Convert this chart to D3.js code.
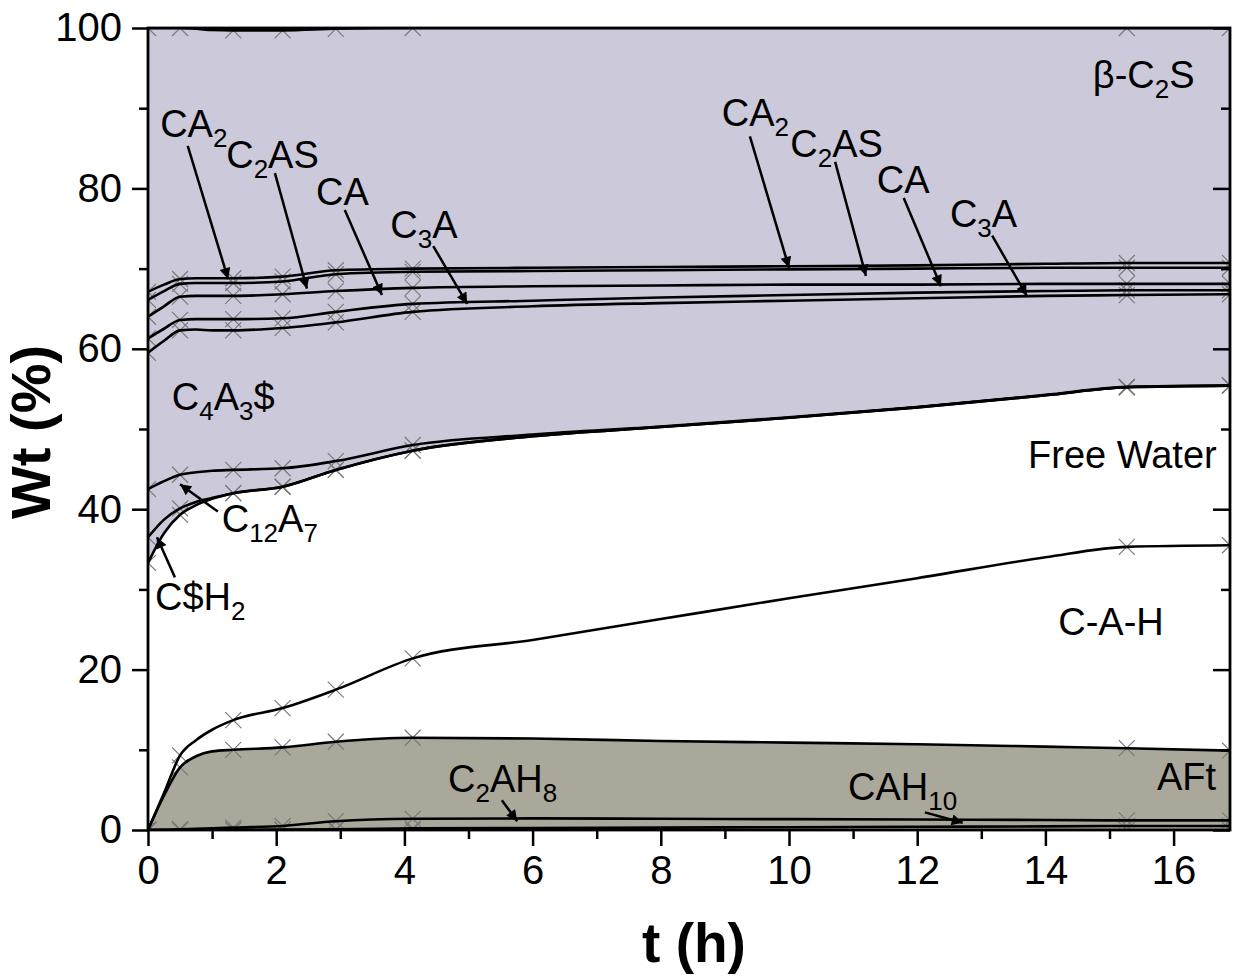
<!DOCTYPE html>
<html>
<head>
<meta charset="utf-8">
<script src="https://cdn.jsdelivr.net/npm/d3@7"></script>
<style>
  body { margin: 0; background: #fff; }
  text { font-family: "Liberation Sans", Arial, sans-serif; }
</style>
</head>
<body>
<div id="container"></div>
<script>
/* CONSTANTS AND GLOBALS */
const width = 1238,
  height = 976,
  margin = { top: 28, bottom: 146, left: 148, right: 8 };

/* DATA - wt% of each phase */
const times = [0, 0.25, 0.5, 0.75, 1.0, 1.33, 2.1, 2.93, 4.13, 6, 8, 10, 12, 14, 15.27, 16.88];
// times with measured points (the grey crosses)
const measTimes = [0, 0.5, 1.33, 2.1, 2.93, 4.13, 15.27, 16.88];

const CAH10 = [0, 0, 0, 0, 0, 0, 0.05, 0.1, 0.2, 0.25, 0.3, 0.35, 0.4, 0.45, 0.5, 0.5];
const C2AH8 = [0, 0.02, 0.1, 0.15, 0.2, 0.3, 0.45, 1.0, 1.2, 1.2, 1.1, 1.0, 0.9, 0.8, 0.7, 0.7];
const AFt = [0, 4.28, 7.7, 9.05, 9.6, 9.7, 9.8, 9.9, 10.1, 9.95, 9.7, 9.55, 9.4, 9.15, 9.0, 8.7];
const CAH = [0, 0.3, 1.5, 2.0, 2.7, 3.7, 4.9, 6.5, 9.9, 12.3, 15.2, 18.0, 20.7, 23.6, 25.1, 25.6];
const FreeWater = [33.3, 32.4, 30.0, 29.3, 28.8, 28.3, 27.6, 27.4, 25.9, 25.4, 23.95, 22.5, 21.3, 20.2, 19.9, 19.9];
const CSH2 = [3.2, 1.7, 0.8, 0.4, 0.1, 0, 0, 0, 0, 0, 0, 0, 0, 0, 0, 0];
const C12A7 = [6.0, 4.8, 4.2, 3.7, 3.4, 2.9, 2.3, 1.1, 0.7, 0.2, 0.05, 0.05, 0.05, 0.05, 0.05, 0.05];
const C4A3S = [17.0, 17.5, 18.0, 17.8, 17.5, 17.4, 17.5, 17.3, 16.6, 16.0, 15.4, 14.55, 13.55, 12.35, 11.45, 11.35];
const C3A = [1.8, 1.5, 1.3, 1.3, 1.4, 1.4, 1.2, 1.3, 1.0, 0.7, 0.7, 0.7, 0.7, 0.6, 0.6, 0.5];
const CA = [2.7, 2.8, 2.9, 2.9, 2.9, 2.9, 3.0, 2.6, 2.0, 1.8, 1.5, 1.3, 1.0, 0.9, 0.8, 0.8];
const C2AS = [2.1, 1.9, 1.6, 1.6, 1.6, 1.6, 1.6, 2.1, 2.0, 1.9, 1.9, 1.9, 2.0, 2.0, 2.0, 2.0];
const CA2 = [1.0, 0.8, 0.6, 0.6, 0.6, 0.6, 0.6, 0.5, 0.4, 0.4, 0.4, 0.4, 0.4, 0.5, 0.6, 0.6];
const bC2S = [32.9, 32.0, 31.3, 31.1, 30.95, 30.9, 30.7, 30.1, 30.0, 29.9, 29.8, 29.7, 29.6, 29.4, 29.3, 29.3];

const phases = { CAH10, C2AH8, AFt, CAH, FreeWater, CSH2, C12A7, C4A3S, C3A, CA, C2AS, CA2, bC2S };
const keys = Object.keys(phases);

const xTicks = [0, 2, 4, 6, 8, 10, 12, 14, 16];
const yTicks = [0, 20, 40, 60, 80, 100];

// labels: {sub} = subscript; t,v = text anchor in data units; a = arrow [t0,v0,t1,v1]
const labels = [
  { s: "β-C{2}S", t: 14.74, v: 92.5 },
  { s: "CA{2}", t: 0.19, v: 86.4, a: [0.62, 85.3, 1.25, 68.7] },
  { s: "C{2}AS", t: 1.22, v: 82.5, a: [1.98, 81.9, 2.48, 67.5] },
  { s: "CA", t: 2.62, v: 77.9, a: [3.07, 77.3, 3.65, 66.7] },
  { s: "C{3}A", t: 3.78, v: 73.8, a: [4.45, 72.8, 4.98, 65.6] },
  { s: "CA{2}", t: 8.95, v: 87.8, a: [9.39, 86.5, 10.0, 70.1] },
  { s: "C{2}AS", t: 10.02, v: 83.9, a: [10.72, 83.3, 11.2, 69.1] },
  { s: "CA", t: 11.37, v: 79.4, a: [11.79, 78.8, 12.37, 67.8] },
  { s: "C{3}A", t: 12.51, v: 75.2, a: [13.17, 74.1, 13.71, 66.6] },
  { s: "C{4}A{3}$", t: 0.37, v: 52.4 },
  { s: "C{12}A{7}", t: 1.15, v: 37.2, a: [1.09, 39.7, 0.50, 43.1] },
  { s: "C$H{2}", t: 0.11, v: 27.4, a: [0.42, 31.5, 0.14, 36.5] },
  { s: "Free Water", t: 13.73, v: 45.1 },
  { s: "C-A-H", t: 14.2, v: 24.3 },
  { s: "C{2}AH{8}", t: 4.68, v: 4.7, a: [5.52, 3.7, 5.76, 1.1] },
  { s: "CAH{10}", t: 10.92, v: 3.7, a: [12.12, 2.2, 12.71, 0.9] },
  { s: "AFt", t: 15.74, v: 5.0 }
];

const lavender = "#cbc9da", khaki = "#aaa89b";
const fillOf = { CAH10: khaki, C2AH8: khaki, AFt: khaki, CAH: "#fff", FreeWater: "#fff" };

/* SCALES */
const xScale = d3.scaleLinear()
  .domain([0, 16.88])
  .range([margin.left, width - margin.right]);
const yScale = d3.scaleLinear()
  .domain([0, 100])
  .range([height - margin.bottom, margin.top]);

const rows = times.map((t, i) => {
  const r = { t };
  keys.forEach(k => r[k] = phases[k][i]);
  return r;
});
const series = d3.stack().keys(keys)(rows);

/* HTML ELEMENTS */
const svg = d3.select("#container")
  .append("svg")
  .attr("width", width)
  .attr("height", height)
  .style("background-color", "white");

const defs = svg.append("defs");
defs.append("clipPath").attr("id", "plot")
  .append("rect")
  .attr("x", margin.left).attr("y", margin.top)
  .attr("width", width - margin.left - margin.right)
  .attr("height", height - margin.top - margin.bottom);
defs.append("marker")
  .attr("id", "head")
  .attr("markerUnits", "userSpaceOnUse")
  .attr("viewBox", "0 0 10 10")
  .attr("refX", 10).attr("refY", 5)
  .attr("markerWidth", 15).attr("markerHeight", 11)
  .attr("orient", "auto")
  .append("path").attr("d", "M0,0L10,5L0,10Z").attr("fill", "#000");

const plot = svg.append("g").attr("clip-path", "url(#plot)");

const area = d3.area()
  .x(d => xScale(d.data.t))
  .y0(d => yScale(d[0]))
  .y1(d => yScale(d[1]))
  .curve(d3.curveMonotoneX);
const line = d3.line()
  .x(d => xScale(d.data.t))
  .y(d => yScale(d[1]))
  .curve(d3.curveMonotoneX);

plot.selectAll(".layer")
  .data(series)
  .enter()
  .append("path")
  .attr("d", area)
  .attr("fill", d => fillOf[d.key] || lavender);

// grey crosses at measured times on each boundary
const crosses = [];
series.forEach(s => s.forEach(d => {
  if (measTimes.includes(d.data.t)) crosses.push([d.data.t, d[1]]);
}));
measTimes.forEach(t => crosses.push([t, 0]));
const c = 8;
plot.selectAll(".cross")
  .data(crosses)
  .enter()
  .append("path")
  .attr("d", d => {
    const px = xScale(d[0]), py = yScale(d[1]);
    return `M${px - c},${py - c}L${px + c},${py + c}M${px - c},${py + c}L${px + c},${py - c}`;
  })
  .attr("stroke", "#7a7a7a")
  .attr("stroke-width", 1.2)
  .attr("fill", "none");

plot.selectAll(".edge")
  .data(series)
  .enter()
  .append("path")
  .attr("d", line)
  .attr("fill", "none")
  .attr("stroke", "#000")
  .attr("stroke-width", 2.6);

//axis
const x0 = margin.left, x1 = width - margin.right;
const y0 = height - margin.bottom, y1 = margin.top;
const xAxis = d3.axisBottom(xScale)
  .tickValues(xTicks)
  .tickSize(16)
  .tickPadding(10)
  .tickFormat(d3.format("d"));
svg.append("g")
  .attr("transform", `translate(0,${y0})`)
  .call(xAxis);
svg.append("g")
  .attr("transform", `translate(0,${y0})`)
  .call(d3.axisBottom(xScale).tickValues(d3.range(1, 17, 2)).tickSize(9).tickFormat(""));

const yAxis = d3.axisLeft(yScale)
  .tickValues(yTicks)
  .tickSize(16)
  .tickPadding(10);
svg.append("g")
  .attr("transform", `translate(${x0},0)`)
  .call(yAxis);
svg.append("g")
  .attr("transform", `translate(${x0},0)`)
  .call(d3.axisLeft(yScale).tickValues(d3.range(10, 100, 20)).tickSize(9).tickFormat(""));
svg.append("g")
  .attr("transform", `translate(${x1},0)`)
  .call(d3.axisRight(yScale).tickValues(yTicks).tickSize(-17).tickFormat(""));
svg.append("g")
  .attr("transform", `translate(${x1},0)`)
  .call(d3.axisRight(yScale).tickValues(d3.range(10, 100, 20)).tickSize(-9).tickFormat(""));

svg.selectAll(".domain").remove();
svg.selectAll(".tick line").attr("stroke", "#000").attr("stroke-width", 2.5);
svg.selectAll(".tick text")
  .attr("fill", "#000")
  .style("font-size", "40px")
  .style("font-family", '"Liberation Sans", Arial, sans-serif');

// frame
svg.append("rect")
  .attr("x", x0).attr("y", y1)
  .attr("width", x1 - x0).attr("height", y0 - y1)
  .attr("fill", "none")
  .attr("stroke", "#000")
  .attr("stroke-width", 2.8);

//Axis titles
svg.append("text")
  .attr("x", 694)
  .attr("y", 962)
  .attr("text-anchor", "middle")
  .style("font-size", "55px")
  .style("font-weight", "bold")
  .text("t (h)");
svg.append("text")
  .attr("transform", `translate(50,${(y0 + y1) / 2 + 3}) rotate(-90)`)
  .attr("text-anchor", "middle")
  .style("font-size", "56px")
  .style("font-weight", "bold")
  .text("Wt (%)");

// phase labels with subscripts
labels.forEach(l => {
  const txt = svg.append("text")
    .attr("x", xScale(l.t))
    .attr("y", yScale(l.v))
    .style("font-size", "38px")
    .attr("fill", "#000");
  let shift = 0;
  l.s.split(/(\{[^}]*\})/).filter(p => p).forEach(p => {
    if (p[0] === "{") {
      txt.append("tspan").attr("dy", 10 - shift).style("font-size", "26px").text(p.slice(1, -1));
      shift = 10;
    } else {
      txt.append("tspan").attr("dy", -shift).text(p);
      shift = 0;
    }
  });
  if (l.a) {
    svg.append("line")
      .attr("x1", xScale(l.a[0])).attr("y1", yScale(l.a[1]))
      .attr("x2", xScale(l.a[2])).attr("y2", yScale(l.a[3]))
      .attr("stroke", "#000")
      .attr("stroke-width", 2.5)
      .attr("marker-end", "url(#head)");
  }
});
</script>
</body>
</html>
